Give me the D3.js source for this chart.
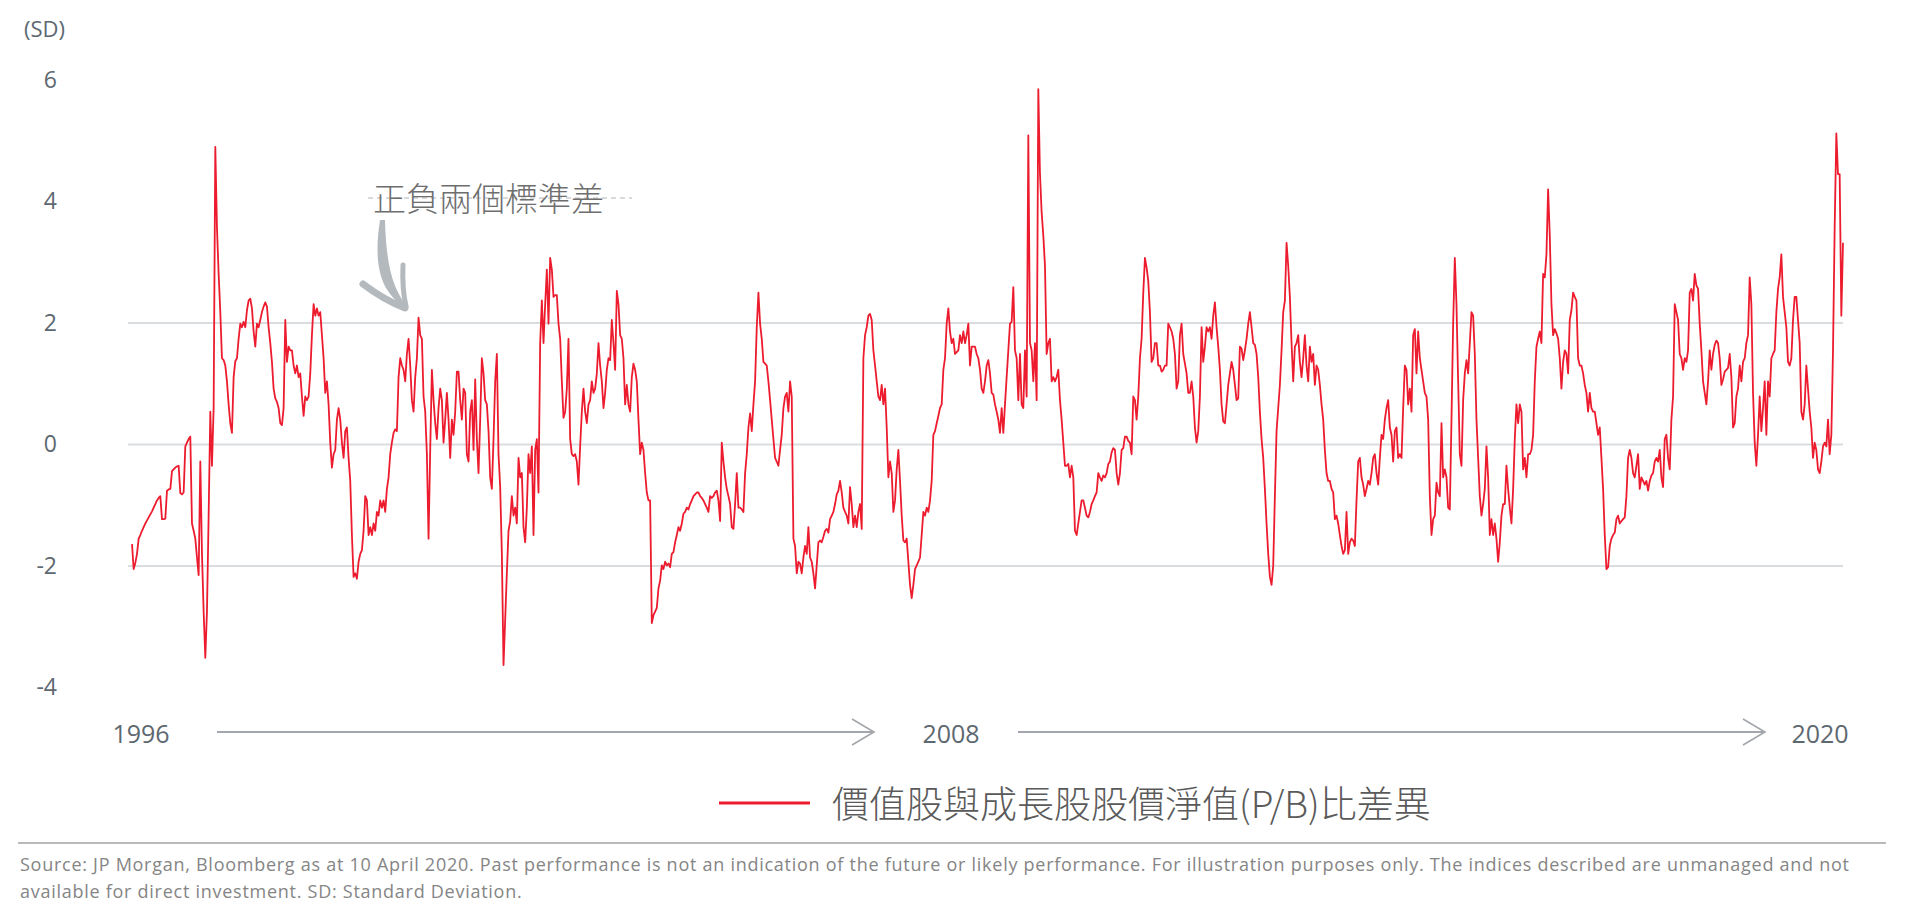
<!DOCTYPE html>
<html><head><meta charset="utf-8">
<script src="https://cdn.jsdelivr.net/npm/d3@7"></script>
<style>
html,body{margin:0;padding:0;background:#fff;}
svg{display:block;}
</style></head><body>
<svg id="chart" width="1910" height="907"></svg>
<script>
// P/B valuation spread, value vs growth, in standard deviations (equally spaced observations)
const values1996to2002 = [
-1.64,-2.05,-1.95,-1.80,-1.55,-1.49,-1.42,-1.36,-1.30,-1.25,
-1.20,-1.15,-1.10,-1.04,-0.98,-0.92,-0.88,-0.85,-1.23,-1.23,
-1.22,-0.76,-0.74,-0.73,-0.44,-0.41,-0.38,-0.36,-0.35,-0.80,
-0.82,-0.79,-0.03,0.03,0.09,0.13,-1.30,-1.42,-1.55,-1.86,
-2.15,-0.28,-1.80,-2.75,-3.51,-2.75,-1.17,0.54,-0.35,0.60,
4.90,3.57,2.81,2.18,1.42,1.39,1.30,1.04,0.66,0.35,
0.19,1.11,1.37,1.42,1.74,1.99,1.93,2.02,1.93,2.21,
2.37,2.40,2.24,1.86,1.61,1.99,1.93,2.05,2.18,2.27,
2.34,2.27,1.93,1.67,1.36,0.92,0.76,0.70,0.60,0.35,
0.32,0.60,2.05,1.36,1.61,1.55,1.55,1.30,1.17,1.30,
1.11,1.17,0.79,0.47,0.79,0.73,0.79,1.17,1.80,2.31,
2.12,2.24,2.12,2.18,1.80,1.42,0.85,1.04,0.66,0.03,
-0.38,-0.16,-0.09,0.41,0.60,0.41,0.03,-0.22,0.22,0.28,
-0.22,-0.60,-1.49,-2.18,-2.12,-2.21,-1.93,-1.80,-1.74,-1.42,
-0.85,-0.92,-1.49,-1.36,-1.49,-1.30,-1.42,-1.11,-1.17,-0.92,
-1.04,-0.92,-1.11,-0.73,-0.54,-0.16,0.03,0.19,0.25,0.22,
1.11,1.42,1.30,1.23,1.04,1.49,1.74,1.30,0.73,0.54,
1.11,1.42,2.09,1.80,1.74,0.79,0.54,-0.16,-1.55,-0.09,
1.23,0.73,0.35,0.09,0.60,0.92,0.73,0.03,0.41,0.85,
0.41,-0.22,0.41,0.16,0.54,1.20,1.20,0.73,0.41,0.92,
0.85,-0.16,-0.28,0.54,0.73,-0.09,1.07,0.09,-0.47,0.41,
1.42,1.17,0.73,0.66,0.22,-0.54,-0.73,0.09,1.04,1.49,
-0.16,-0.70,-1.80,-3.63,-2.88,-2.12,-1.42,-1.26,-0.85,-1.17,
-1.04,-1.30,-0.22,-0.54,-0.47,-1.36,-1.61,-1.04,-0.16,-0.47,
-0.03,-1.49,-0.09,0.09,-0.79,1.67,2.37,1.67,2.31,2.88,
1.99,3.07,2.88,2.43];

const values2002to2008 = [
2.46,2.46,1.99,1.74,1.04,0.44,0.54,0.92,1.74,0.09,
-0.16,-0.19,-0.16,-0.28,-0.66,-0.03,0.54,0.92,0.54,0.35,
0.66,0.73,1.04,0.85,0.92,1.17,1.67,1.30,1.04,0.60,
0.85,1.23,1.42,1.39,2.05,1.67,1.23,2.53,2.31,1.80,
1.74,1.42,0.66,0.98,0.66,0.54,1.11,1.33,1.23,1.04,
0.41,-0.16,0.03,-0.09,-0.47,-0.79,-0.92,-0.92,-2.94,-2.81,
-2.75,-2.69,-2.37,-2.24,-1.99,-2.05,-1.93,-1.99,-1.96,-2.02,
-1.80,-1.77,-1.61,-1.49,-1.36,-1.42,-1.30,-1.14,-1.11,-1.04,
-1.07,-0.98,-0.92,-0.85,-0.82,-0.79,-0.79,-0.85,-0.88,-0.92,
-0.98,-1.04,-1.11,-0.85,-0.88,-0.85,-0.79,-0.76,-0.92,-1.26,
0.03,-0.28,-0.54,-0.73,-0.85,-0.98,-1.36,-1.39,-0.98,-0.47,
-1.04,-1.04,-1.07,-1.11,-0.47,-0.16,0.28,0.51,0.22,0.66,
1.04,1.93,2.50,1.99,1.74,1.36,1.33,1.30,1.04,0.73,
0.41,0.09,-0.22,-0.28,-0.35,-0.09,0.16,0.60,0.79,0.85,
0.54,1.04,0.79,-1.55,-1.67,-2.12,-1.93,-1.96,-2.12,-1.86,
-1.67,-1.80,-1.36,-1.86,-1.93,-2.12,-2.37,-1.99,-1.61,-1.58,
-1.61,-1.52,-1.42,-1.39,-1.45,-1.23,-1.17,-1.11,-0.98,-0.82,
-0.76,-0.60,-0.79,-1.04,-1.11,-1.17,-1.30,-0.70,-0.98,-1.36,
-1.17,-1.36,-1.11,-0.98,-1.39,1.42,1.80,1.93,2.12,2.15,
2.05,1.55,1.30,1.04,0.79,0.73,0.98,0.66,0.92,0.28,
-0.54,-0.28,-0.47,-1.11,-0.92,-0.41,-0.09,-0.60,-1.17,-1.58,
-1.61,-1.55,-1.93,-2.31,-2.53,-2.31,-2.05,-1.99,-1.93,-1.86,
-1.49,-1.11,-1.17,-1.04,-1.11,-0.92,-0.60,0.16,0.22,0.35,
0.47,0.60,0.66,1.23,1.42,1.99,2.24,1.86,1.67,1.74,
1.49,1.52,1.55,1.80,1.67,1.86,1.67,1.80,1.99,1.30,
1.61,1.61,1.61,1.49,1.42,1.23,0.92,0.85];

const values2008to2014 = [
1.04,1.30,1.39,1.17,0.85,0.82,0.66,0.54,0.41,0.19,
0.60,0.19,0.66,1.11,1.55,1.99,2.02,2.59,1.55,1.42,
0.73,1.49,0.66,0.60,1.55,0.79,5.09,1.67,1.55,1.04,
1.67,0.73,5.85,4.45,3.82,3.44,2.94,1.49,1.67,1.74,
1.04,1.11,1.04,1.11,1.23,0.73,0.41,0.03,-0.35,-0.35,
-0.32,-0.54,-0.35,-0.54,-1.42,-1.49,-1.30,-1.11,-0.92,-0.92,
-1.04,-1.17,-1.20,-1.11,-0.98,-0.92,-0.85,-0.79,-0.47,-0.54,
-0.60,-0.51,-0.54,-0.47,-0.32,-0.28,-0.13,-0.06,-0.09,-0.47,
-0.66,-0.47,-0.09,-0.06,0.13,0.13,0.06,0.03,-0.16,0.79,
0.73,0.41,0.79,1.42,1.74,2.50,3.07,2.91,2.69,2.18,
1.36,1.42,1.67,1.67,1.30,1.30,1.20,1.23,1.30,1.30,
1.99,1.93,1.86,1.74,1.49,0.92,1.04,1.80,1.99,1.49,
1.33,1.17,0.85,0.85,1.04,0.79,0.28,0.03,0.22,0.79,
1.93,1.36,1.61,1.93,1.86,1.93,1.74,2.12,2.34,1.93,
1.61,1.23,0.66,0.38,0.35,0.66,0.98,1.17,1.36,1.23,
0.98,0.73,0.76,1.61,1.58,1.39,1.55,1.74,1.99,2.18,
1.93,1.67,1.64,1.49,1.11,0.54,0.09,-0.22,-0.73,-1.30,
-1.80,-2.18,-2.31,-1.99,-0.85,0.22,0.60,0.98,1.55,2.18,
2.37,3.32,2.94,2.43,1.67,1.04,1.61,1.67,1.80,1.36,
1.11,1.42,1.80,1.30,1.04,1.61,1.36,1.49,0.98,1.30,
1.23,0.98,0.66,0.41,-0.09,-0.47,-0.60,-0.60,-0.73,-0.79,
-1.23,-1.17,-1.30,-1.49,-1.67,-1.80,-1.74,-1.11,-1.80,-1.61,
-1.55,-1.58,-1.67,-0.92,-0.28,-0.22,-0.54,-0.66,-0.85,-0.73,
-0.60,-0.66,-0.47,-0.22,-0.16,-0.47,-0.66,-0.22,0.16,0.09,
0.41,0.60,0.73,0.28,0.16,-0.28,0.22,0.28,-0.22,-0.16,
-0.22,0.60,1.30,1.23,0.66,0.92,0.54,1.80];

const values2014to2020 = [
1.90,1.17,1.86,1.42,1.23,1.04,0.85,0.79,0.41,-0.85,
-1.49,-1.23,-1.17,-0.63,-0.79,-0.85,0.35,-0.54,-0.41,-0.54,
-1.04,-1.07,0.41,1.99,3.07,2.31,1.04,-0.16,-0.35,0.73,
1.17,1.39,1.17,1.67,2.18,2.12,1.49,0.41,-0.22,-0.85,
-1.17,-0.98,-0.73,-0.03,-0.54,-1.49,-1.23,-1.49,-1.30,-1.55,
-1.93,-1.61,-1.17,-0.98,-0.98,-0.35,-0.73,-1.04,-1.30,-0.73,
0.09,0.66,0.35,0.66,0.54,-0.41,-0.22,-0.54,-0.16,-0.16,
-0.09,0.16,1.04,1.61,1.74,1.86,1.67,2.81,2.75,3.13,
4.20,3.44,2.31,1.80,1.90,1.83,1.74,1.42,0.92,1.36,
1.55,1.49,1.17,2.05,2.21,2.50,2.43,2.37,1.42,1.30,
1.30,1.17,0.98,0.85,0.54,0.85,0.60,0.54,0.54,0.35,
0.16,0.28,-0.22,-0.73,-1.49,-2.05,-2.02,-1.67,-1.55,-1.49,
-1.45,-1.23,-1.17,-1.30,-1.26,-1.23,-1.20,-0.85,-0.22,-0.09,
-0.22,-0.47,-0.54,-0.35,-0.16,-0.73,-0.54,-0.60,-0.66,-0.60,
-0.76,-0.60,-0.51,-0.47,-0.28,-0.22,-0.28,-0.09,-0.54,-0.70,
0.09,0.16,-0.22,-0.41,0.41,0.79,2.31,2.18,2.05,1.49,
1.42,1.23,1.42,1.36,1.55,2.50,2.56,2.37,2.81,2.62,
2.56,1.99,1.55,1.04,0.85,0.66,1.04,1.55,1.23,1.49,
1.64,1.71,1.67,1.42,0.98,1.07,1.20,1.23,1.26,1.49,
1.11,0.28,0.35,0.79,0.92,1.30,1.04,1.36,1.42,1.67,
1.80,2.75,2.31,0.85,0.03,-0.35,0.16,0.79,0.22,0.60,
1.04,0.16,1.04,0.79,1.42,1.49,1.55,2.18,2.56,2.75,
3.13,2.43,2.18,1.93,1.36,1.30,1.42,2.05,2.43,2.43,
2.05,1.67,0.54,0.41,0.66,1.30,0.92,0.54,0.28,-0.22,
0.03,-0.09,-0.41,-0.47,-0.28,-0.03,0.03,-0.03,0.41,-0.16,
0.16,1.55,3.57,5.12,4.45,4.45,2.12,3.32];

const firstObservation = new Date(1996, 0, 5);
const lastObservation = new Date(2020, 3, 10);
const yTickValues = [6, 4, 2, 0, -2, -4];
const gridValues = [2, 0, -2];
const periodLabels = ["1996", "2008", "2020"];
const unitLabel = "(SD)";
const annotationText = "正負兩個標準差";
const seriesName = "價值股與成長股股價淨值(P/B)比差異";
const sourceLines = [
  "Source: JP Morgan, Bloomberg as at 10 April 2020. Past performance is not an indication of the future or likely performance. For illustration purposes only. The indices described are unmanaged and not",
  "available for direct investment. SD: Standard Deviation."
];

// ---- build series ----
const values = [].concat(values1996to2002, values2002to2008, values2008to2014, values2014to2020);
const stepMs = (lastObservation - firstObservation) / (values.length - 1);
const series = values.map((v, i) => ({ date: new Date(+firstObservation + i * stepMs), value: v }));

const svg = d3.select("#chart");
const latin = "'Open Sans', 'Noto Sans', sans-serif";
const cjk = "'Noto Sans CJK TC', 'Noto Sans CJK SC', sans-serif";

const x = d3.scaleTime().domain([firstObservation, lastObservation]).range([132, 1843]);
const y = d3.scaleLinear().domain([-4, 6]).range([687.5, 80]);

// gridlines
svg.append("g").selectAll("line").data(gridValues).join("line")
  .attr("x1", 128).attr("x2", 1843)
  .attr("y1", d => y(d)).attr("y2", d => y(d))
  .attr("stroke", "#dadde0").attr("stroke-width", 2);

// y axis labels
const yAxis = svg.append("g").attr("transform", "translate(57,0)")
  .call(d3.axisLeft(y).tickValues(yTickValues).tickSize(0).tickPadding(0).tickFormat(d => String(d)));
yAxis.select(".domain").remove();
yAxis.selectAll("text")
  .attr("font-family", latin).attr("font-size", 23).attr("fill", "#5d6870");

svg.append("text").attr("x", 24).attr("y", 28).attr("dominant-baseline", "central")
  .attr("font-family", latin).attr("font-size", 22).attr("fill", "#5d6870").text(unitLabel);

// annotation
svg.append("line").attr("x1", 368).attr("x2", 632).attr("y1", 198).attr("y2", 198)
  .attr("stroke", "#b4b4b4").attr("stroke-width", 1).attr("stroke-dasharray", "5,4");
svg.append("text").attr("x", 373).attr("y", 197).attr("dominant-baseline", "central")
  .attr("font-family", cjk).attr("font-size", 33).attr("font-weight", 300)
  .attr("fill", "#6e6e6e").text(annotationText);

const arrowColor = "#b4b9bd";
svg.append("path")
  .attr("d", "M380,220 C376,246 376,270 386,288 C392,298 399,304 407,309 L400,296 C392,282 386,262 385,220 Z")
  .attr("fill", arrowColor);
svg.append("path").attr("d", "M363,284 Q384,300 405,308")
  .attr("fill", "none").attr("stroke", arrowColor).attr("stroke-width", 7).attr("stroke-linecap", "round");
svg.append("path").attr("d", "M403,265 Q402,290 406,306")
  .attr("fill", "none").attr("stroke", arrowColor).attr("stroke-width", 5).attr("stroke-linecap", "round");

// line series
const line = d3.line().x(d => x(d.date)).y(d => y(d.value));
svg.append("path").datum(series)
  .attr("d", line).attr("fill", "none")
  .attr("stroke", "#ec1c2e").attr("stroke-width", 1.8).attr("stroke-linejoin", "round");

// period axis with arrows
const periodX = [141, 951, 1820];
svg.append("g").selectAll("text").data(periodLabels).join("text")
  .attr("x", (d, i) => periodX[i]).attr("y", 733).attr("text-anchor", "middle")
  .attr("dominant-baseline", "central")
  .attr("font-family", latin).attr("font-size", 25).attr("fill", "#5d6870").text(d => d);
const arrows = [[217, 874], [1018, 1765]];
const ag = svg.append("g").attr("stroke", "#a3a7ab").attr("fill", "none");
arrows.forEach(([a, b]) => {
  ag.append("line").attr("x1", a).attr("x2", b - 1).attr("y1", 732).attr("y2", 732).attr("stroke-width", 2);
  ag.append("path").attr("d", `M${b - 22},719 L${b},732 L${b - 22},745`).attr("stroke-width", 1.6);
});

// legend
svg.append("line").attr("x1", 719).attr("x2", 810).attr("y1", 803).attr("y2", 803)
  .attr("stroke", "#ec1c2e").attr("stroke-width", 3);
svg.append("text").attr("x", 832).attr("y", 802).attr("dominant-baseline", "central")
  .attr("font-family", cjk).attr("font-size", 37).attr("font-weight", 300)
  .attr("fill", "#5a5a5a").text(seriesName);

// footer
svg.append("line").attr("x1", 18).attr("x2", 1886).attr("y1", 843).attr("y2", 843)
  .attr("stroke", "#a3a3a3").attr("stroke-width", 1.5);
const footer = svg.append("g").selectAll("text").data(sourceLines).join("text")
  .attr("x", 20).attr("y", (d, i) => 871 + i * 27)
  .attr("font-family", latin).attr("font-size", 18).attr("fill", "#858585").text(d => d);
const firstLen = footer.node().getComputedTextLength();
const spacing = Math.max(0, (1829 - firstLen) / (sourceLines[0].length - 1));
footer.attr("letter-spacing", spacing);
</script>
</body></html>
